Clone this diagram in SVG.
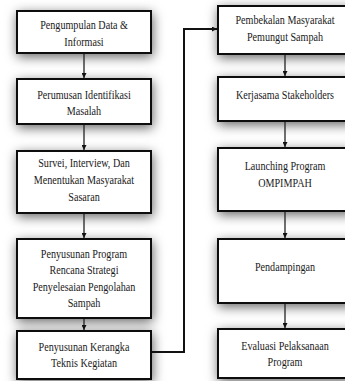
<svg xmlns="http://www.w3.org/2000/svg" width="345" height="381" viewBox="0 0 345 381">
<style>
.box{fill:#fff;stroke:#111;stroke-width:2;filter:url(#sh)}
.lbl{font-family:"Liberation Serif","Times New Roman","DejaVu Serif",serif;font-size:13px;fill:#1a1a1a;text-anchor:middle}
.arr{stroke:#222;stroke-width:1.3;fill:none;marker-end:url(#ah)}
.conn{stroke:#111;stroke-width:2;fill:none;marker-end:url(#ah)}
</style>
<defs>
<filter id="sh" x="-30%" y="-40%" width="160%" height="190%">
<feDropShadow dx="1" dy="3" stdDeviation="6" flood-color="#000" flood-opacity="0.6"/>
</filter>
<marker id="ah" viewBox="0 0 10 10" refX="10" refY="5" markerWidth="5" markerHeight="5" markerUnits="userSpaceOnUse" orient="auto">
<path d="M0,0 L10,5 L0,10 z" fill="#111"/>
</marker>
</defs>
<rect width="345" height="381" fill="#fff"/>
<g id="n1"><rect class="box" x="17" y="11" width="134" height="42"/>
<text class="lbl" transform="translate(84 0) scale(0.78 1)"><tspan x="0" y="29">Pengumpulan Data &amp;</tspan><tspan x="0" y="46">Informasi</tspan></text></g>
<g id="n2"><rect class="box" x="17" y="79" width="134" height="45"/>
<text class="lbl" transform="translate(84 0) scale(0.78 1)"><tspan x="0" y="99">Perumusan Identifikasi</tspan><tspan x="0" y="115">Masalah</tspan></text></g>
<g id="n3"><rect class="box" x="17" y="151" width="134" height="62"/>
<text class="lbl" transform="translate(84 0) scale(0.78 1)"><tspan x="0" y="167">Survei, Interview, Dan</tspan><tspan x="0" y="184">Menentukan Masyarakat</tspan><tspan x="0" y="201">Sasaran</tspan></text></g>
<g id="n4"><rect class="box" x="17" y="239" width="134" height="79"/>
<text class="lbl" transform="translate(84 0) scale(0.78 1)"><tspan x="0" y="258">Penyusunan Program</tspan><tspan x="0" y="274">Rencana Strategi</tspan><tspan x="0" y="291">Penyelesaian Pengolahan</tspan><tspan x="0" y="307">Sampah</tspan></text></g>
<g id="n5"><rect class="box" x="17" y="331" width="134" height="48"/>
<text class="lbl" transform="translate(84 0) scale(0.78 1)"><tspan x="0" y="351">Penyusunan Kerangka</tspan><tspan x="0" y="367">Teknis Kegiatan</tspan></text></g>
<g id="n6"><rect class="box" x="218" y="6" width="134" height="48"/>
<text class="lbl" transform="translate(285 0) scale(0.78 1)"><tspan x="0" y="24">Pembekalan Masyarakat</tspan><tspan x="0" y="41">Pemungut Sampah</tspan></text></g>
<g id="n7"><rect class="box" x="218" y="77" width="134" height="44"/>
<text class="lbl" transform="translate(285 0) scale(0.78 1)"><tspan x="0" y="99">Kerjasama Stakeholders</tspan></text></g>
<g id="n8"><rect class="box" x="218" y="148" width="134" height="63"/>
<text class="lbl" transform="translate(285 0) scale(0.78 1)"><tspan x="0" y="170">Launching Program</tspan><tspan x="0" y="187">OMPIMPAH</tspan></text></g>
<g id="n9"><rect class="box" x="218" y="239" width="134" height="64"/>
<text class="lbl" transform="translate(285 0) scale(0.78 1)"><tspan x="0" y="271">Pendampingan</tspan></text></g>
<g id="n10"><rect class="box" x="218" y="329" width="134" height="49"/>
<text class="lbl" transform="translate(285 0) scale(0.78 1)"><tspan x="0" y="350">Evaluasi Pelaksanaan</tspan><tspan x="0" y="366">Program</tspan></text></g>
<g id="connectors">
<path class="arr" d="M84,54 V78"/>
<path class="arr" d="M84,125 V150"/>
<path class="arr" d="M84,214 V238"/>
<path class="arr" d="M84,319 V330"/>
<path class="arr" d="M285,55 V76"/>
<path class="arr" d="M285,122 V147"/>
<path class="arr" d="M285,212 V238"/>
<path class="arr" d="M285,304 V328"/>
<path class="conn" d="M152,352 H184 V29 H217"/>
</g>
</svg>
